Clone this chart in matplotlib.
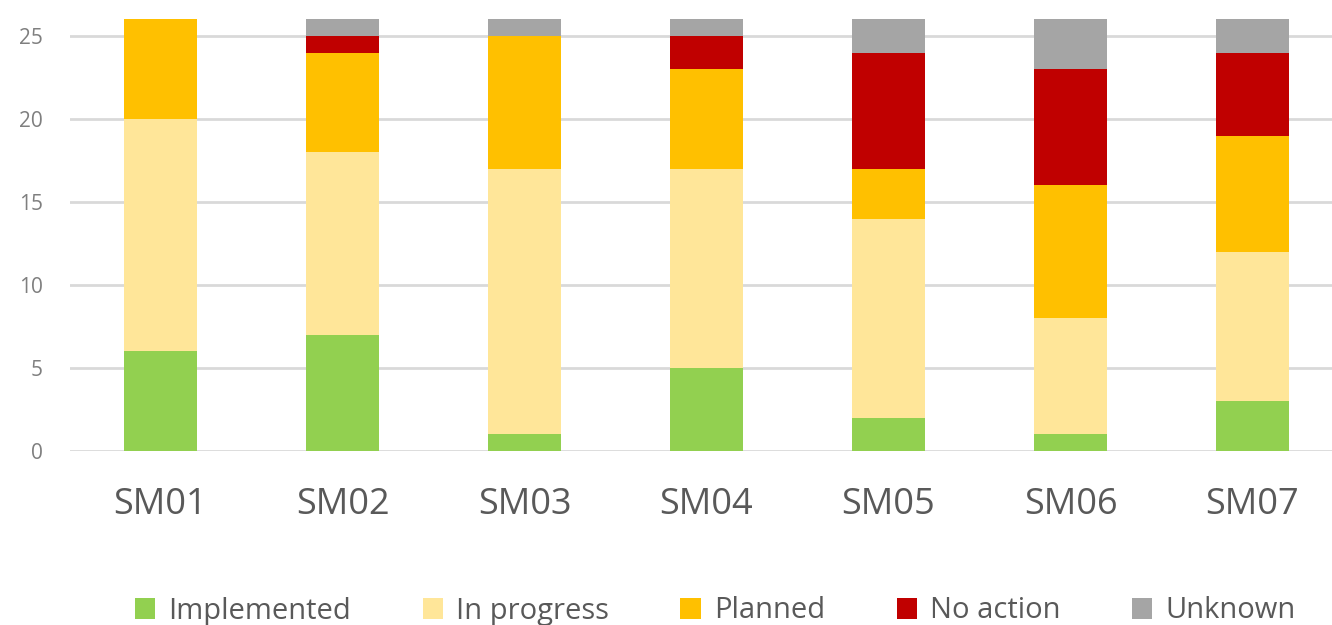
import matplotlib.pyplot as plt
from matplotlib.patches import Patch

plt.rcParams['font.family'] = ['Open Sans', 'DejaVu Sans']

categories = ['SM01', 'SM02', 'SM03', 'SM04', 'SM05', 'SM06', 'SM07']
implemented = [6, 7, 1, 5, 2, 1, 3]
in_progress = [14, 11, 16, 12, 12, 7, 9]
planned = [6, 6, 8, 6, 3, 8, 7]
no_action = [0, 1, 0, 2, 7, 7, 5]
unknown = [0, 1, 1, 1, 2, 3, 2]

series = [
    ('Implemented', implemented, '#92D050'),
    ('In progress', in_progress, '#FFE699'),
    ('Planned', planned, '#FFC000'),
    ('No action', no_action, '#C00000'),
    ('Unknown', unknown, '#A5A5A5'),
]

W, H = 1332, 625
fig = plt.figure(figsize=(W / 100, H / 100), dpi=100)
left, right, top, bottom = 69.5, 1332, 19.4, 451
ax = fig.add_axes([left / W, 1 - bottom / H, (right - left) / W, (bottom - top) / H])

x = list(range(len(categories)))
base = [0] * len(categories)
for name, vals, col in series:
    ax.bar(x, vals, 0.4, bottom=base, color=col, zorder=3, linewidth=0)
    base = [b + v for b, v in zip(base, vals)]

ax.set_ylim(0, 26)
ax.set_xlim(-0.5, (right - left) / 182.0 - 0.5)
ax.set_yticks([0, 5, 10, 15, 20, 25])
ax.yaxis.grid(True, color='#D9D9D9', linewidth=2, zorder=0)
ax.set_axisbelow(True)
for s in ax.spines.values():
    s.set_visible(False)
ax.tick_params(axis='both', length=0)
ax.tick_params(axis='y', labelsize=15, labelcolor='#7F7F7F', pad=19)
ax.tick_params(axis='x', labelsize=26, labelcolor='#595959', pad=26)
ax.set_xticks(x)
ax.set_xticklabels(categories)

handles = [Patch(facecolor=c, label=n) for n, v, c in series]
fig.legend(handles=handles, loc='center', bbox_to_anchor=(0.537, 1 - 611 / H), ncol=5,
           frameon=False, fontsize=21, labelcolor='#595959', handlelength=0.7,
           handleheight=0.7, handletextpad=0.45, columnspacing=2.45)

fig.savefig('out.png', dpi=100)
